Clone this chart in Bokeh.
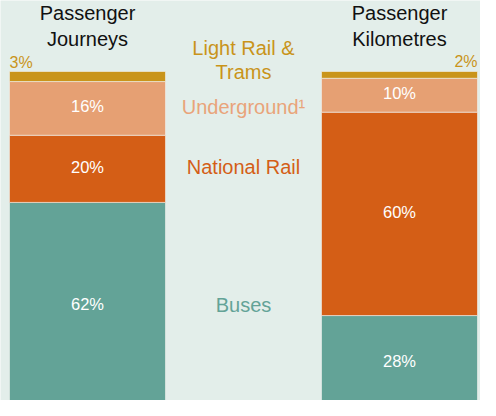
from bokeh.plotting import figure
from bokeh.models import Range1d, ColumnDataSource
from bokeh.core.properties import value
from bokeh.embed import file_html
from bokeh.resources import INLINE

# ---- data ----
modes = ["Buses", "National Rail", "Underground", "Light Rail & Trams"]
mode_labels = ["Buses", "National Rail", "Underground\u00b9", "Light Rail &\nTrams"]
journeys = [62, 20, 16, 3]
kilometres = [28, 60, 10, 2]
bar_titles = [["Passenger", "Journeys"], ["Passenger", "Kilometres"]]
colors = ["#63a397", "#d45e16", "#e6a073", "#c9941a"]
label_colors = ["#63a397", "#d45e16", "#e9a47a", "#c9941a"]

BG = "#e3eeea"
FONT = value("Liberation Sans")

p = figure(width=480, height=400, output_backend="svg", toolbar_location=None,
           x_range=Range1d(-0.2788, 1.2596), y_range=Range1d(2.95, 120.94),
           min_border=0)
p.xaxis.visible = False
p.yaxis.visible = False
p.grid.visible = False
p.outline_line_color = None
p.background_fill_color = BG
p.border_fill_color = BG

series = [journeys, kilometres]
mids_left = []
for i, vals in enumerate(series):
    total = sum(vals)
    bottoms, tops = [], []
    b = 0.0
    for v in vals:
        h = v * 100.0 / total
        bottoms.append(b)
        tops.append(b + h)
        b += h
    mids = [(a + c) / 2 for a, c in zip(bottoms, tops)]
    labs = [f"{v}%" for v in vals]
    src = ColumnDataSource(dict(x=[i] * len(vals), bottom=bottoms, top=tops,
                                color=colors, val=vals))
    p.vbar(x="x", bottom="bottom", top="top", width=0.5, fill_color="color",
           line_color="#f2f2ee", line_alpha=0.6, line_width=1, source=src)
    if i == 0:
        mids_left = mids
    # inside labels (all but the thin top segment)
    p.text(x=[i] * (len(vals) - 1), y=[m + 0.6 for m in mids[:-1]], text=labs[:-1],
           text_color="white", text_font=FONT, text_font_size="16.5px",
           text_align="center", text_baseline="middle")
    # top small label
    if i == 0:
        p.text(x=[i - 0.25], y=[102.7], text=[labs[-1]], text_color=colors[-1],
               text_font=FONT, text_font_size="16px", text_align="left",
               text_baseline="middle")
    else:
        p.text(x=[i + 0.25], y=[102.9], text=[labs[-1]], text_color=colors[-1],
               text_font=FONT, text_font_size="16px", text_align="right",
               text_baseline="middle")
    # titles
    p.text(x=[i, i], y=[117.4, 109.7], text=bar_titles[i], text_color="#111111",
           text_font=FONT, text_font_size="20px", text_align="center",
           text_baseline="middle")

# mode labels between bars
for k in range(3):
    p.text(x=[0.5], y=[mids_left[k] + 0.4], text=[mode_labels[k]], text_color=label_colors[k],
           text_font=FONT, text_font_size="20px", text_align="center",
           text_baseline="middle")
lr_lines = mode_labels[3].split("\n")
p.text(x=[0.5, 0.5], y=[106.9, 99.85], text=lr_lines, text_color=label_colors[3],
       text_font=FONT, text_font_size="20px", text_align="center",
       text_baseline="middle")

open("out.html", "w").write(file_html(p, INLINE))
